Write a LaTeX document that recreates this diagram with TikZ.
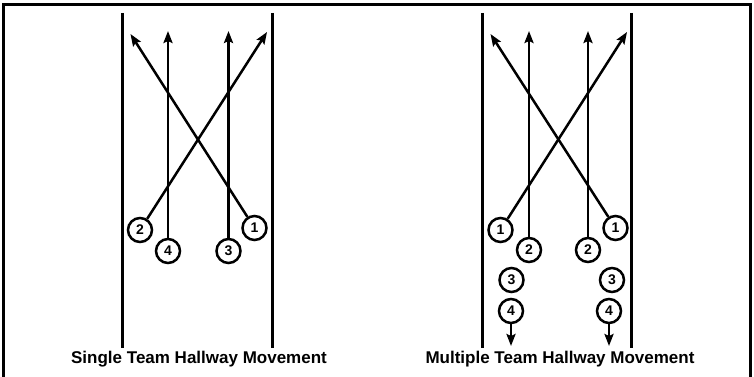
\documentclass[tikz,border=0pt]{standalone}
\usepackage{fontspec}
\setmainfont{Liberation Sans}
\usetikzlibrary{arrows.meta}
\begin{document}
\begin{tikzpicture}[x=1pt,y=-1pt,
  wall/.style={line width=3pt},
  frame/.style={line width=3.5pt},
  mover/.style={circle,draw,line width=2.5pt,minimum size=24pt,inner sep=0pt,font=\bfseries\fontsize{14}{14}\selectfont},
  path/.style={line width=2.5pt,-{Stealth[length=12pt,width=9pt,inset=2pt]}},
  caption/.style={font=\bfseries\fontsize{17}{17}\selectfont,inner sep=0pt}]
\useasboundingbox (0,0) rectangle (754,377);
% frame
\draw[frame] (3.5,377) -- (3.5,4.5) -- (750.5,4.5) -- (750.5,377);
% ---- left panel ----
\draw[wall] (122.5,13) -- (122.5,348);
\draw[wall] (272.5,13) -- (272.5,348);
\node[mover] (s2) at (140,230) {2};
\node[mover] (s4) at (168,251) {4};
\node[mover] (s3) at (228.5,251) {3};
\node[mover] (s1) at (254.5,228) {1};
\coordinate (s2t) at (267,32);
\coordinate (s4t) at (168,31);
\coordinate (s3t) at (228.5,31);
\coordinate (s1t) at (130.5,34);
\draw[path] (s2) -- (s2t);
\draw[path] (s4) -- (s4t);
\draw[path] (s3) -- (s3t);
\draw[path] (s1) -- (s1t);
\node[caption] (capL) at (199,359) {Single Team Hallway Movement};
% ---- right panel ----
\draw[wall] (482,13) -- (482,348);
\draw[wall] (631.5,13) -- (631.5,348);
\node[mover] (l1) at (500.5,230) {1};
\node[mover] (l2) at (529,250) {2};
\node[mover] (l3) at (511.5,280) {3};
\node[mover] (l4) at (511,311) {4};
\node[mover] (r2) at (588,250) {2};
\node[mover] (r1) at (615.5,228) {1};
\node[mover] (r3) at (612,280) {3};
\node[mover] (r4) at (609,311) {4};
\coordinate (l1t) at (627,32);
\coordinate (l2t) at (529,31);
\coordinate (r2t) at (588,31);
\coordinate (r1t) at (490.5,34);
\coordinate (l4b) at (511,346);
\coordinate (r4b) at (609,346);
\draw[path] (l1) -- (l1t);
\draw[path] (l2) -- (l2t);
\draw[path] (r2) -- (r2t);
\draw[path] (r1) -- (r1t);
\draw[path] (l4) -- (l4b);
\draw[path] (r4) -- (r4b);
\node[caption] (capR) at (560,359) {Multiple Team Hallway Movement};
\end{tikzpicture}
\end{document}
